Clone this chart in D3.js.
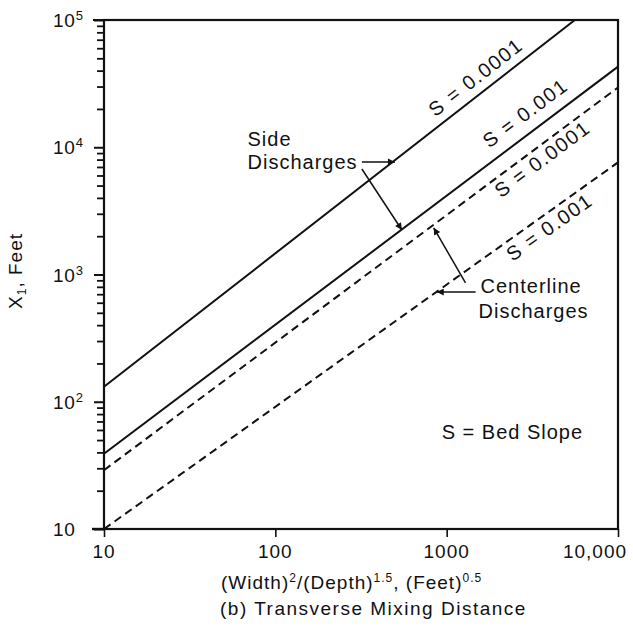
<!DOCTYPE html>
<html>
<head>
<meta charset="utf-8">
<script src="https://cdn.jsdelivr.net/npm/d3@7/dist/d3.min.js"></script>
<style>
  html, body { margin: 0; padding: 0; background: #fff; }
  svg { display: block; }
  text { font-family: "Liberation Sans", Arial, Helvetica, sans-serif; fill: #111; }
</style>
</head>
<body>
<svg id="chart" width="633" height="628"></svg>
<script>
// Axis extents and ticks
const xDomain = [10, 10000];
const yDomain = [10, 100000];
const xTickValues = [10, 100, 1000, 10000];
const xTickLabels = ["10", "100", "1000", "10,000"];
const yTickValues = [10, 100, 1000, 10000, 100000];
const yTickExponents = ["", "2", "3", "4", "5"];

// Mixing-distance lines: [W²/D^1.5, X1] end points (straight on log-log axes)
const sideS0001 = [[10, 131], [5600, 100000]];
const sideS001 = [[10, 39], [10000, 43000]];
const centerS0001 = [[10, 29], [10000, 29500]];
const centerS001 = [[10, 10], [10000, 7600]];

const seriesNames = ["Side, S = 0.0001", "Side, S = 0.001", "Centerline, S = 0.0001", "Centerline, S = 0.001"];
const seriesPoints = [sideS0001, sideS001, centerS0001, centerS001];
const seriesDashed = [false, false, true, true];

// Slope labels on the lines: text and anchor point [x, y]
const slopeLabels = ["S = 0.0001", "S = 0.001", "S = 0.0001", "S = 0.001"];
const slopeLabelAt = [[1476, 35600], [2877, 18600], [3614, 8090], [3972, 2362]];

// Annotation text and leader arrows (data coordinates)
const sideText = [["Side", 68.8, 10230], ["Discharges", 68.8, 6745]];
const sideArrows = [[[320, 7660], [499, 7660]], [[320, 6745], [548, 2238]]];
const centerText = [["Centerline", 1577, 716], ["Discharges", 1535, 455]];
const centerArrows = [[[1475, 728], [875, 728]], [[1288, 858], [840, 2330]]];
const noteText = ["S = Bed Slope", 935, 51];

const svg = d3.select("#chart");
const mLeft = 104, mRight = 618, mTop = 20, mBottom = 529;

const x = d3.scaleLog().domain(xDomain).range([mLeft, mRight]);
const y = d3.scaleLog().domain(yDomain).range([mBottom, mTop]);

svg.append("defs").append("marker")
  .attr("id", "arrow")
  .attr("viewBox", "0 0 10 10")
  .attr("refX", 10).attr("refY", 5)
  .attr("markerWidth", 10).attr("markerHeight", 7)
  .attr("markerUnits", "userSpaceOnUse")
  .attr("orient", "auto")
  .append("path").attr("d", "M0,0 L10,5 L0,10 z").attr("fill", "#111");

svg.append("clipPath").attr("id", "plotClip")
  .append("rect").attr("x", mLeft).attr("y", mTop)
  .attr("width", mRight - mLeft).attr("height", mBottom - mTop);

// Y axis: major and minor ticks outside on the left
const yMinor = [];
for (let d = 10; d < 100000; d *= 10) for (let k = 2; k <= 9; k++) yMinor.push(d * k);
const yAxis = d3.axisLeft(y).tickValues(yTickValues).tickSize(10).tickFormat("");
const yAxisG = svg.append("g").attr("transform", `translate(${mLeft},0)`).call(yAxis);
yAxisG.select(".domain").remove();
yAxisG.selectAll(".tick line").attr("stroke", "#111").attr("stroke-width", 2);
const yMinorG = svg.append("g").attr("transform", `translate(${mLeft},0)`)
  .call(d3.axisLeft(y).tickValues(yMinor).tickSize(7).tickFormat(""));
yMinorG.select(".domain").remove();
yMinorG.selectAll(".tick line").attr("stroke", "#111").attr("stroke-width", 1.8);

// Y tick labels: 10 with exponent
yTickValues.forEach((v, i) => {
  const t = svg.append("text")
    .attr("x", 53).attr("y", y(v) + 7)
    .attr("font-size", 19).attr("letter-spacing", 0.8);
  t.append("tspan").text("10");
  if (yTickExponents[i]) {
    t.append("tspan").attr("dy", -7).attr("font-size", 13).text(yTickExponents[i]);
  }
});

// X axis: ticks below
const xAxis = d3.axisBottom(x).tickValues(xTickValues).tickSize(8).tickFormat("");
const xAxisG = svg.append("g").attr("transform", `translate(0,${mBottom})`).call(xAxis);
xAxisG.select(".domain").remove();
xAxisG.selectAll(".tick line").attr("stroke", "#111").attr("stroke-width", 1.6);
xTickValues.forEach((v, i) => {
  const last = i === xTickValues.length - 1;
  svg.append("text")
    .attr("x", last ? x(v) - 23 : x(v))
    .attr("y", 558)
    .attr("text-anchor", "middle")
    .attr("font-size", 19).attr("letter-spacing", 1)
    .text(xTickLabels[i]);
});

// Frame
svg.append("rect")
  .attr("x", mLeft).attr("y", mTop)
  .attr("width", mRight - mLeft).attr("height", mBottom - mTop)
  .attr("fill", "none").attr("stroke", "#111").attr("stroke-width", 2.2);
svg.append("line").attr("x1", mLeft - 11).attr("x2", mLeft).attr("y1", mTop).attr("y2", mTop)
  .attr("stroke", "#111").attr("stroke-width", 2);
svg.append("line").attr("x1", mLeft - 12).attr("x2", mLeft).attr("y1", mBottom).attr("y2", mBottom)
  .attr("stroke", "#111").attr("stroke-width", 2.4);

// Lines
const line = d3.line().x(d => x(d[0])).y(d => y(d[1]));
const plot = svg.append("g").attr("clip-path", "url(#plotClip)");
seriesPoints.forEach((pts, i) => {
  plot.append("path")
    .datum(pts)
    .attr("d", line)
    .attr("fill", "none")
    .attr("stroke", "#111")
    .attr("stroke-width", 2)
    .attr("stroke-dasharray", seriesDashed[i] ? "8,5" : null)
    .append("title").text(seriesNames[i]);
});

// Slope labels rotated along the lines
slopeLabels.forEach((lab, i) => {
  const pts = seriesPoints[i];
  const ang = Math.atan2(y(pts[1][1]) - y(pts[0][1]), x(pts[1][0]) - x(pts[0][0])) * 180 / Math.PI;
  const px = x(slopeLabelAt[i][0]), py = y(slopeLabelAt[i][1]);
  svg.append("text")
    .attr("transform", `translate(${px},${py}) rotate(${ang})`)
    .attr("text-anchor", "middle")
    .attr("dy", "0.35em")
    .attr("font-size", 20).attr("letter-spacing", 1.6)
    .text(lab);
});

// Annotations
function addText(rows) {
  rows.forEach(r => {
    svg.append("text").attr("x", x(r[1])).attr("y", y(r[2]))
      .attr("font-size", 20).attr("letter-spacing", 1).text(r[0]);
  });
}
function addArrows(list) {
  list.forEach(a => {
    svg.append("line")
      .attr("x1", x(a[0][0])).attr("y1", y(a[0][1]))
      .attr("x2", x(a[1][0])).attr("y2", y(a[1][1]))
      .attr("stroke", "#111").attr("stroke-width", 1.5)
      .attr("marker-end", "url(#arrow)");
  });
}
addText(sideText);
addArrows(sideArrows);
addText(centerText);
addArrows(centerArrows);
addText([noteText]);

// Axis titles
const yt = svg.append("text")
  .attr("transform", "translate(22,271) rotate(-90)")
  .attr("text-anchor", "middle")
  .attr("font-size", 19).attr("letter-spacing", 1);
yt.append("tspan").text("X");
yt.append("tspan").attr("dy", 4).attr("font-size", 12).text("1");
yt.append("tspan").attr("dy", -4).text(", Feet");

const xt = svg.append("text")
  .attr("x", 221).attr("y", 589)
  .attr("font-size", 19).attr("letter-spacing", 1);
xt.append("tspan").text("(Width)");
xt.append("tspan").attr("dy", -7).attr("font-size", 12).text("2");
xt.append("tspan").attr("dy", 7).text("/(Depth)");
xt.append("tspan").attr("dy", -7).attr("font-size", 12).text("1.5");
xt.append("tspan").attr("dy", 7).text(", (Feet)");
xt.append("tspan").attr("dy", -7).attr("font-size", 12).text("0.5");

svg.append("text")
  .attr("x", 220).attr("y", 615)
  .attr("font-size", 19).attr("letter-spacing", 1.5)
  .text("(b) Transverse Mixing Distance");
</script>
</body>
</html>
